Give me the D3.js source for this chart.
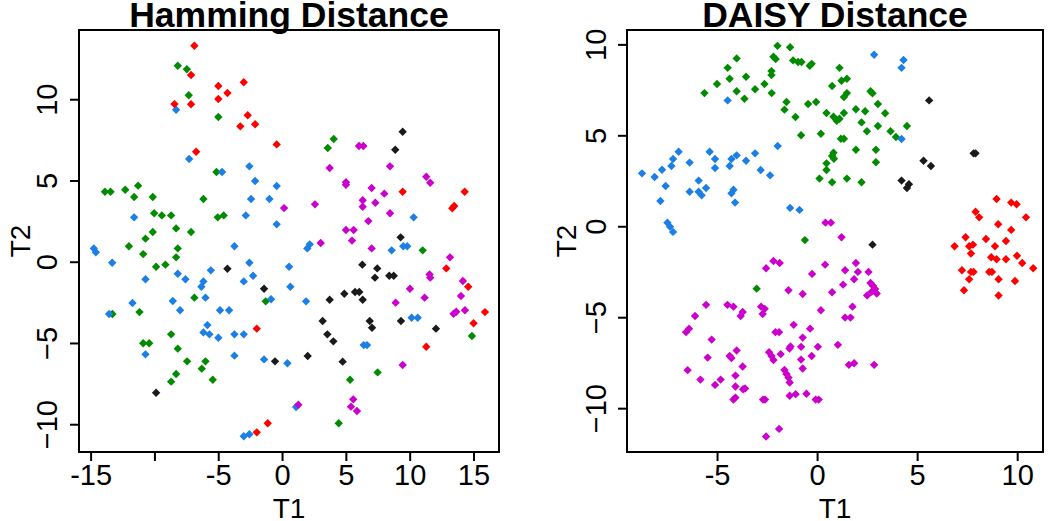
<!DOCTYPE html>
<html><head><meta charset="utf-8">
<script src="https://cdn.jsdelivr.net/npm/d3@7"></script>
<style>
html,body{margin:0;padding:0;background:#fff;}
svg{display:block;font-family:"Liberation Sans",Arial,sans-serif;}
</style></head>
<body><svg id="c" width="1050" height="521"></svg>
<script>
// ---------- DATA ----------
const titles = ["Hamming Distance", "DAISY Distance"];
const xLabel = "T1", yLabel = "T2";
const hamXTicks = [-15, -10, -5, 0, 5, 10, 15];
const hamXTickLabels = ["-15", "", "-5", "0", "5", "10", "15"];
const hamYTicks = [-10, -5, 0, 5, 10];
const daisyXTicks = [-5, 0, 5, 10];
const daisyYTicks = [-10, -5, 0, 5, 10];
const groupColors = {red:"#ff0000", green:"#008b00", blue:"#1c7fe6", magenta:"#cc00cc", black:"#1a1a1a"};

const hamRed = [[-6.87,13.29],[-7.13,11.49],[-4.99,10.81],[-3.0,11.04],[-4.28,10.38],[-4.99,10.01],[-8.43,9.70],[-7.13,9.69],[-2.69,9.01],[-3.27,8.33],[-2.11,8.46],[-0.42,7.22],[-6.73,6.77],[9.45,4.31],[14.31,4.31],[13.34,3.29],[13.49,3.43],[-1.98,-4.12],[-1.12,-9.94],[-1.98,-10.50],[12.87,-0.41],[14.59,-1.54],[15.90,-3.10],[15.01,-3.79],[11.30,-5.23]];
const hamGreen = [[-8.17,12.06],[-7.46,11.84],[-7.31,10.24],[-4.99,8.91],[-5.14,5.52],[-13.88,4.31],[-13.44,4.31],[-12.29,4.43],[-11.28,4.68],[-11.59,3.98],[-10.13,3.98],[-6.16,3.86],[-10.02,2.98],[-9.42,2.85],[-8.69,2.85],[-5.04,2.73],[-4.57,2.85],[-8.30,2.05],[-7.13,1.83],[-10.13,1.83],[-10.70,1.42],[4.05,7.55],[3.58,7.0],[-12.0,0.95],[-10.88,0.47],[-8.17,0.82],[-8.30,0.27],[-9.87,-0.31],[-9.14,-0.18],[-6.87,-2.21],[-1.28,-2.44],[-11.17,-3.10],[-13.29,-3.22],[-8.69,-4.47],[-10.88,-5.02],[-10.41,-5.02],[-8.17,-5.35],[-7.44,-6.13],[-6.0,-6.13],[-6.29,-6.58],[-8.30,-6.91],[-8.69,-7.38],[-5.43,-7.26],[11.02,0.70],[14.88,-4.57],[7.49,-6.81],[5.33,-7.26],[4.44,-9.94]];
const hamBlue = [[-8.30,9.35],[-7.28,6.32],[-4.70,5.52],[-2.56,5.87],[-2.11,4.97],[-0.42,4.66],[-2.43,3.86],[-0.99,3.86],[-11.59,2.73],[-2.84,2.85],[-0.42,2.30],[10.31,2.73],[-14.75,0.82],[-14.59,0.58],[-13.31,-0.06],[-3.73,0.95],[-2.56,-0.06],[0.55,-0.31],[-5.58,-0.53],[-8.17,-0.74],[-7.57,-1.08],[-10.70,-1.08],[-3.0,-1.21],[-2.27,-0.86],[-6.16,-1.21],[-6.32,-1.54],[0.65,-1.54],[-6.0,-2.21],[-0.86,-2.31],[-11.72,-2.54],[-8.56,-2.42],[-7.99,-2.99],[-4.86,-2.99],[-4.15,-2.99],[-13.55,-3.22],[-5.85,-3.90],[-6.16,-4.35],[-5.69,-4.47],[-4.99,-4.68],[-3.73,-4.47],[-3.0,-4.47],[-10.70,-5.70],[-3.73,-5.78],[-1.41,-6.01],[0.42,-6.25],[-3.0,-10.74],[-2.56,-10.62],[1.98,0.82],[2.17,1.07],[8.59,0.70],[9.50,0.95],[9.81,0.95],[1.88,-2.44],[10.15,-3.45],[10.63,-3.45],[6.40,-5.13],[6.66,-5.13],[1.10,-8.94]];
const hamMagenta = [[0.16,3.30],[6.03,7.12],[6.37,7.12],[3.73,5.77],[8.46,5.87],[11.30,5.23],[11.61,4.86],[5.01,4.89],[5.01,4.74],[7.02,4.54],[8.01,4.19],[2.58,3.53],[6.32,3.78],[6.32,3.38],[7.31,3.63],[8.46,2.98],[6.76,2.50],[5.01,1.95],[5.61,1.95],[5.48,1.30],[3.03,1.15],[7.02,0.82],[13.16,0.27],[11.56,-0.78],[11.61,-0.98],[14.17,-1.19],[10.02,-1.66],[14.02,-2.11],[11.17,-2.21],[8.90,-2.52],[14.33,-2.99],[13.44,-3.20],[13.65,-3.08],[9.45,-6.36],[1.28,-8.80],[5.58,-8.47],[5.40,-8.92],[5.87,-9.19]];
const hamBlack = [[9.45,8.0],[8.87,6.89],[9.29,1.50],[-4.28,-0.43],[-1.41,-1.66],[-0.55,-6.13],[-9.87,-8.06],[6.29,-0.18],[7.46,-0.41],[7.28,-0.98],[8.40,-0.86],[8.75,-0.86],[4.88,-1.97],[5.72,-1.86],[6.05,-1.86],[6.32,-2.34],[3.73,-2.34],[3.18,-3.65],[6.87,-3.65],[7.05,-4.06],[9.32,-3.65],[12.06,-4.12],[3.55,-4.47],[4.02,-4.90],[2.01,-5.80],[4.75,-6.15]];

const daisyGreen = [[-1.98,9.92],[-1.35,9.84],[-4.02,9.23],[-2.18,9.32],[-2.07,9.19],[-1.2,9.12],[-0.95,9.03],[-0.78,9.03],[-0.27,8.93],[-0.37,8.82],[-4.47,8.71],[-2.28,8.53],[-2.28,8.31],[-4.37,8.11],[-3.55,8.22],[-5.0,7.82],[-2.63,7.82],[0.75,7.71],[-5.63,7.32],[-4.02,7.42],[-3.1,7.53],[-2.27,7.32],[-3.63,7.01],[-1.53,6.83],[-1.63,6.41],[-0.45,6.72],[-0.05,6.83],[-1.08,6.01],[0.47,6.23],[0.82,6.02],[-0.8,5.0],[0.19,5.09],[0.75,3.86],[0.82,4.04],[0.47,3.46],[0.47,3.09],[0.12,2.62],[0.75,2.42],[-0.61,-0.76],[1.12,8.71],[1.22,8.0],[1.49,8.11],[1.49,7.32],[1.34,7.10],[2.67,7.42],[2.77,7.31],[3.04,6.72],[0.98,5.80],[1.12,5.91],[1.34,6.23],[1.94,6.43],[2.4,6.32],[3.4,6.21],[2.22,5.71],[3.04,5.51],[2.49,5.22],[3.67,5.22],[4.49,5.51],[3.94,4.91],[1.19,4.81],[1.34,4.81],[1.94,4.21],[2.94,4.21],[0.84,3.71],[2.94,3.52],[1.49,2.62],[2.22,2.42],[-3.02,-3.43]];
const daisyBlue = [[-4.47,6.92],[-1.97,4.41],[-6.92,4.10],[-5.37,4.10],[-3.1,4.01],[-7.2,3.70],[-7.28,3.31],[-5.1,3.70],[-4.28,3.70],[-4.02,3.90],[-6.37,3.50],[-3.55,3.60],[-7.75,3.11],[-5.1,3.20],[-4.37,3.31],[-2.82,3.09],[-2.35,2.80],[-8.75,2.91],[-8.12,2.71],[-7.57,2.21],[-5.92,2.51],[-6.37,1.90],[-5.92,1.90],[-5.77,1.70],[-5.55,2.10],[-4.18,2.01],[-4.28,1.81],[-7.83,1.39],[-4.1,1.30],[-1.35,1.01],[-0.88,0.90],[-7.48,0.2],[-7.35,-0.02],[-7.2,-0.31],[2.85,9.43],[4.32,9.14],[4.22,8.71],[4.22,4.80]];
const daisyBlack = [[5.6,6.92],[7.82,4.01],[7.92,4.01],[5.32,3.60],[5.69,3.31],[4.22,2.51],[4.59,2.31],[4.49,2.10],[2.77,-1.01]];
const daisyRed = [[8.97,1.50],[9.7,1.30],[9.97,1.21],[7.92,0.80],[8.1,0.49],[10.44,0.49],[9.05,0.11],[9.7,-0.20],[7.42,-0.6],[6.87,-1.1],[7.6,-1.1],[7.79,-1.01],[8.44,-0.7],[8.89,-1.1],[9.44,-0.81],[7.69,-1.5],[8.7,-1.7],[8.97,-1.81],[9.44,-1.81],[9.99,-1.62],[10.25,-2.02],[10.8,-2.31],[7.24,-2.42],[7.69,-2.51],[7.82,-2.51],[8.6,-2.51],[8.74,-2.51],[7.6,-2.91],[9.07,-2.91],[9.89,-3.01],[7.34,-3.52],[9.07,-3.81]];
const daisyMagenta = [[0.42,0.2],[0.69,0.2],[1.22,-0.6],[-2.18,-1.91],[-1.87,-2.02],[-2.55,-2.31],[0.40,-2.11],[-0.25,-2.62],[-1.43,-3.52],[-0.72,-3.72],[0.75,-3.63],[-5.55,-4.32],[-4.48,-4.32],[-4.18,-4.42],[-3.72,-4.71],[-3.82,-4.93],[-2.8,-4.42],[-2.62,-4.54],[-2.72,-4.82],[0.19,-4.62],[-6.1,-4.93],[-6.4,-5.63],[-6.55,-5.82],[-1.17,-5.42],[-0.35,-5.63],[-2.08,-5.82],[-1.9,-5.82],[-0.72,-6.12],[-0.8,-6.63],[-5.27,-6.23],[-4.02,-6.83],[-4.37,-7.13],[-4.28,-7.24],[-5.47,-7.22],[-2.4,-6.92],[-2.28,-7.13],[-2.18,-7.35],[-1.82,-7.03],[-1.38,-6.72],[-1.33,-6.61],[0.04,-6.63],[-0.27,-7.13],[-0.8,-7.33],[-0.72,-7.82],[-3.72,-7.71],[-6.47,-7.91],[-5.83,-8.43],[-4.82,-8.43],[-5.1,-8.72],[-4.08,-8.21],[-4.08,-8.81],[-3.6,-8.92],[-3.7,-8.96],[-1.63,-7.9],[-1.53,-8.12],[-1.43,-8.32],[-1.37,-8.59],[-4.18,-9.53],[-4.08,-9.42],[-2.7,-9.53],[-2.6,-9.53],[-1.37,-9.32],[-1.07,-9.23],[-0.53,-9.21],[-0.07,-9.53],[0.08,-9.53],[-1.9,-11.14],[-2.55,-11.56],[1.94,-2.02],[1.4,-2.42],[2.04,-2.51],[2.57,-2.51],[1.85,-2.91],[1.3,-3.21],[2.67,-3.12],[2.5,-3.8],[2.73,-3.6],[2.9,-3.45],[2.79,-3.27],[2.98,-3.7],[1.77,-4.42],[1.4,-5.02],[1.67,-5.02],[1.04,-6.52],[1.59,-7.62],[1.85,-7.53],[2.85,-7.62]];

// ---------- LAYOUT ----------
const svg = d3.select("#c");
const FONT = '"Liberation Sans",Arial,sans-serif';

const panels = [
  { title: titles[0], box:{l:79,r:499,t:30,b:452},
    xDomain:[-15.91,17.0], yDomain:[-11.71,14.26],
    xTicks:hamXTicks, xTickLabels:hamXTickLabels, yTicks:hamYTicks,
    yLabelX:57, yTitleX:30,
    series:[["green",hamGreen],["blue",hamBlue],["red",hamRed],["magenta",hamMagenta],["black",hamBlack]] },
  { title: titles[1], box:{l:627,r:1043,t:30,b:452},
    xDomain:[-9.5,11.29], yDomain:[-12.41,10.79],
    xTicks:daisyXTicks, xTickLabels:daisyXTicks.map(String), yTicks:daisyYTicks,
    yLabelX:606, yTitleX:576,
    series:[["green",daisyGreen],["blue",daisyBlue],["black",daisyBlack],["red",daisyRed],["magenta",daisyMagenta]] }
];

const diamond = r => `M0,${-r}L${r},0L0,${r}L${-r},0Z`;

panels.forEach(p => {
  const b = p.box;
  const x = d3.scaleLinear().domain(p.xDomain).range([b.l, b.r]);
  const y = d3.scaleLinear().domain(p.yDomain).range([b.b, b.t]);
  const g = svg.append("g");

  p.series.forEach(([name, pts]) => {
    g.selectAll(null).data(pts).enter().append("path")
      .attr("d", diamond(4.2))
      .attr("transform", d => `translate(${x(d[0])},${y(d[1])})`)
      .attr("fill", groupColors[name]);
  });

  g.append("rect").attr("x", b.l).attr("y", b.t).attr("width", b.r-b.l).attr("height", b.b-b.t)
    .attr("fill","none").attr("stroke","#000").attr("stroke-width",2);

  const xa = g.append("g").attr("transform", `translate(0,${b.b})`)
    .call(d3.axisBottom(x).tickValues(p.xTicks).tickSize(9).tickFormat((d,i)=>p.xTickLabels[i]));
  xa.select(".domain").attr("d", `M${x(p.xTicks[0])},0H${x(p.xTicks[p.xTicks.length-1])}`)
    .attr("stroke","#000").attr("stroke-width",2);
  xa.selectAll(".tick line").attr("stroke","#000").attr("stroke-width",2);
  xa.selectAll(".tick text").attr("font-family",FONT).attr("font-size",29).attr("fill","#000")
    .attr("y", 33).attr("dy", null);

  const ya = g.append("g").attr("transform", `translate(${b.l},0)`)
    .call(d3.axisLeft(y).tickValues(p.yTicks).tickSize(9).tickFormat(d3.format("d")));
  ya.select(".domain").attr("d", `M0,${y(p.yTicks[0])}V${y(p.yTicks[p.yTicks.length-1])}`)
    .attr("stroke","#000").attr("stroke-width",2);
  ya.selectAll(".tick line").attr("stroke","#000").attr("stroke-width",2);
  ya.selectAll(".tick text").attr("font-family",FONT).attr("font-size",29).attr("fill","#000")
    .attr("x", null).attr("dy", null)
    .attr("text-anchor","middle")
    .attr("transform", `translate(${p.yLabelX - b.l},0) rotate(-90)`);

  g.append("text").attr("x",(b.l+b.r)/2).attr("y",27).attr("text-anchor","middle")
    .attr("font-family",FONT).attr("font-weight","bold").attr("font-size",35.5).attr("fill","#000")
    .text(p.title);
  g.append("text").attr("x",(b.l+b.r)/2).attr("y",518).attr("text-anchor","middle")
    .attr("font-family",FONT).attr("font-size",28).attr("fill","#000").text(xLabel);
  g.append("text").attr("transform",`translate(${p.yTitleX},${(b.t+b.b)/2}) rotate(-90)`)
    .attr("text-anchor","middle")
    .attr("font-family",FONT).attr("font-size",28).attr("fill","#000").text(yLabel);
});
</script></body></html>
